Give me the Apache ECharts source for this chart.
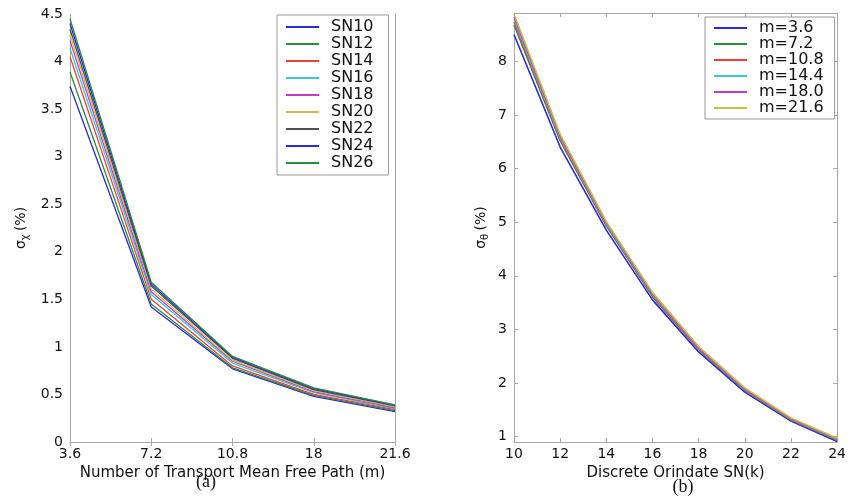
<!DOCTYPE html>
<html><head><meta charset="utf-8">
<script src="https://cdn.jsdelivr.net/npm/echarts@6/dist/echarts.min.js"></script>
<style>html,body{margin:0;padding:0;background:#fff}#c{width:849px;height:501px}</style>
</head><body><div id="c"></div>
<script>
// ---- Data: panel (a) ----
const catsA = ['3.6', '7.2', '10.8', '18', '21.6'];
const namesA = ['SN10','SN12','SN14','SN16','SN18','SN20','SN22','SN24','SN26'];
const SN10 = [3.74, 1.42, 0.77, 0.48, 0.32];
const SN12 = [3.89, 1.45, 0.78, 0.49, 0.33];
const SN14 = [4.05, 1.50, 0.80, 0.50, 0.34];
const SN16 = [4.14, 1.55, 0.83, 0.52, 0.35];
const SN18 = [4.22, 1.58, 0.85, 0.53, 0.36];
const SN20 = [4.28, 1.61, 0.86, 0.54, 0.37];
const SN22 = [4.34, 1.64, 0.88, 0.55, 0.38];
const SN24 = [4.40, 1.66, 0.89, 0.56, 0.385];
const SN26 = [4.45, 1.68, 0.90, 0.57, 0.39];
const valuesA = [SN10, SN12, SN14, SN16, SN18, SN20, SN22, SN24, SN26];

// ---- Data: panel (b) ----
const xB = [10, 12, 14, 16, 18, 20, 22, 24];
const namesB = ['m=3.6','m=7.2','m=10.8','m=14.4','m=18.0','m=21.6'];
const m36  = [8.50, 6.40, 4.85, 3.55, 2.58, 1.83, 1.29, 0.91];
const m72  = [8.68, 6.52, 4.93, 3.61, 2.62, 1.86, 1.31, 0.93];
const m108 = [8.73, 6.55, 4.95, 3.63, 2.63, 1.87, 1.32, 0.94];
const m144 = [8.78, 6.58, 4.97, 3.65, 2.65, 1.88, 1.33, 0.95];
const m180 = [8.83, 6.61, 4.99, 3.67, 2.66, 1.89, 1.34, 0.96];
const m216 = [8.88, 6.64, 5.01, 3.69, 2.68, 1.91, 1.35, 0.97];
const valuesB = [m36, m72, m108, m144, m180, m216];

const colorsA = ['#2a2ad8','#2e8a3c','#e8433a','#3ec6d6','#c43cc4','#c8c044','#505050','#2a2ad8','#2e8a3c'];
const colorsB = ['#2a2ad8','#2e8a3c','#e8433a','#3ec6d6','#c43cc4','#c8c044'];

const FONT = 'DejaVu Sans';
const axisCol = '#a8a8a8';
const lbl = {fontFamily: FONT, fontSize: 14, color: '#111', margin: 5};
const tick = {inside: true, length: 4, lineStyle: {color: axisCol}};
const aLine = {show: true, lineStyle: {color: axisCol, width: 1}};

const chart = echarts.init(document.getElementById('c'), null, {renderer: 'canvas'});

const series = [];
namesA.forEach((n, i) => series.push({
  name: n, type: 'line', xAxisIndex: 0, yAxisIndex: 0, data: valuesA[i],
  showSymbol: false, symbol: 'none', lineStyle: {width: 1.3, color: colorsA[i]}, itemStyle: {color: colorsA[i]},
  animation: false, z: 2 + i
}));
namesB.forEach((n, i) => series.push({
  name: n, type: 'line', xAxisIndex: 2, yAxisIndex: 2, data: xB.map((x, j) => [x, valuesB[i][j]]),
  showSymbol: false, symbol: 'none', lineStyle: {width: 1.6, color: colorsB[i]}, itemStyle: {color: colorsB[i]},
  animation: false, z: 2 + i
}));

const legendCommon = {
  orient: 'vertical', icon: 'rect', itemWidth: 33, itemHeight: 2, itemGap: 1,
  backgroundColor: '#fff', borderColor: '#999', borderWidth: 1,
  textStyle: {fontFamily: FONT, fontSize: 16, color: '#111', padding: [0, 0, 0, 7]},
  selectedMode: false, z: 10
};

chart.setOption({
  animation: false,
  grid: [
    {left: 70, right: 454, top: 14, bottom: 59},
    {left: 514, right: 10, top: 13, bottom: 59}
  ],
  legend: [
    Object.assign({}, legendCommon, {data: namesA, left: 277, top: 15, padding: [4, 15, 4, 9]}),
    Object.assign({}, legendCommon, {data: namesB, left: 705, top: 17, padding: [3, 11, 3, 9], itemGap: 0})
  ],
  xAxis: [
    {gridIndex: 0, type: 'category', data: catsA, boundaryGap: false, axisLine: aLine, axisTick: Object.assign({alignWithLabel: true}, tick),
     axisLabel: lbl, splitLine: {show: false},
     name: 'Number of Transport Mean Free Path (m)', nameLocation: 'middle', nameGap: 17,
     nameTextStyle: {fontFamily: FONT, fontSize: 15, color: '#111'}},
    {gridIndex: 0, type: 'category', data: catsA, boundaryGap: false, position: 'top', axisLine: aLine, axisTick: tick,
     axisLabel: {show: false}, splitLine: {show: false}},
    {gridIndex: 1, type: 'value', min: 10, max: 24, interval: 2, axisLine: aLine, axisTick: tick,
     axisLabel: lbl, splitLine: {show: false},
     name: 'Discrete Orindate SN(k)', nameLocation: 'middle', nameGap: 17,
     nameTextStyle: {fontFamily: FONT, fontSize: 15, color: '#111'}},
    {gridIndex: 1, type: 'value', min: 10, max: 24, interval: 2, position: 'top', axisLine: aLine, axisTick: tick,
     axisLabel: {show: false}, splitLine: {show: false}}
  ],
  yAxis: [
    {gridIndex: 0, type: 'value', min: 0, max: 4.5, interval: 0.5, axisLine: aLine, axisTick: tick,
     axisLabel: Object.assign({}, lbl, {margin: 7}), splitLine: {show: false},
     name: '{s|σ}{sub|χ} {s|(%)}', nameLocation: 'middle', nameGap: 40,
     nameTextStyle: {rich: {s: {fontFamily: FONT, fontSize: 14, color: '#111'}, sub: {fontFamily: FONT, fontSize: 10, color: '#111', padding: [8, 0, 0, 0]}}}},
    {gridIndex: 0, type: 'value', min: 0, max: 4.5, interval: 0.5, position: 'right', axisLine: aLine, axisTick: tick,
     axisLabel: {show: false}, splitLine: {show: false}},
    {gridIndex: 1, type: 'value', min: 0.9, max: 8.9, splitNumber: 8, axisLine: aLine, axisTick: tick,
     axisLabel: Object.assign({}, lbl, {margin: 7, showMinLabel: false, showMaxLabel: false}), splitLine: {show: false},
     name: '{s|σ}{sub|θ} {s|(%)}', nameLocation: 'middle', nameGap: 24,
     nameTextStyle: {rich: {s: {fontFamily: FONT, fontSize: 14, color: '#111'}, sub: {fontFamily: FONT, fontSize: 10, color: '#111', padding: [8, 0, 0, 0]}}}},
    {gridIndex: 1, type: 'value', min: 0.9, max: 8.9, splitNumber: 8, position: 'right', axisLine: aLine, axisTick: tick,
     axisLabel: {show: false}, splitLine: {show: false}}
  ],
  graphic: [
    {type: 'text', x: 206, y: 482, style: {text: '(a)', fontFamily: 'Liberation Serif', fontSize: 18, fontWeight: 'normal', fill: '#111', align: 'center', verticalAlign: 'middle'}},
    {type: 'text', x: 683, y: 487, style: {text: '(b)', fontFamily: 'Liberation Serif', fontSize: 18, fontWeight: 'normal', fill: '#111', align: 'center', verticalAlign: 'middle'}}
  ],
  series: series
});
</script></body></html>
